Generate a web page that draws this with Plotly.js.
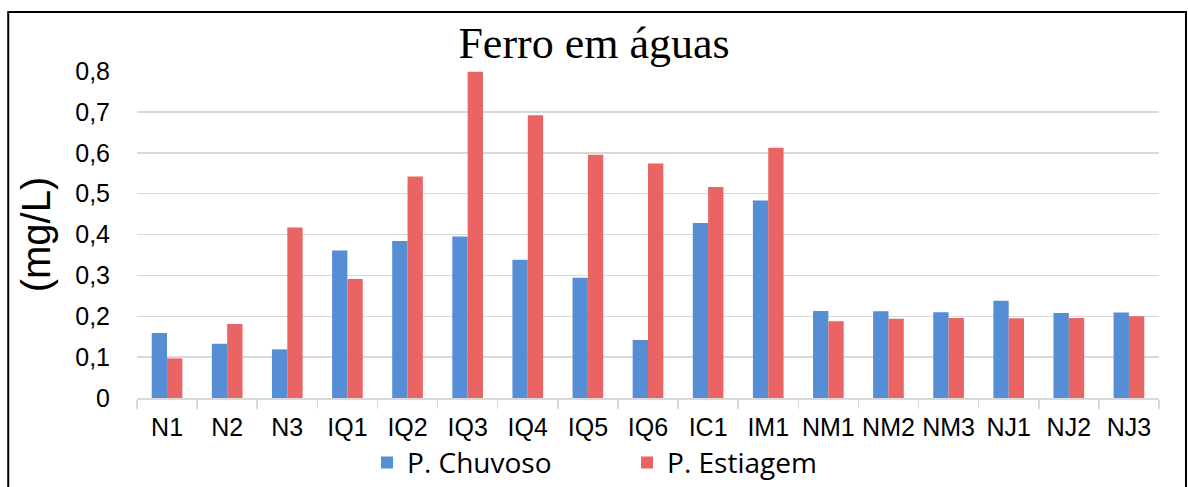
<!DOCTYPE html>
<html>
<head>
<meta charset="utf-8">
<script src="https://cdn.plot.ly/plotly-3.0.1.min.js"></script>
<style>html,body{margin:0;padding:0;background:#fff}#chart{width:1188px;height:487px}</style>
</head>
<body>
<div id="chart"></div>
<script>
const categories = ["N1","N2","N3","IQ1","IQ2","IQ3","IQ4","IQ5","IQ6","IC1","IM1","NM1","NM2","NM3","NJ1","NJ2","NJ3"];
const chuvoso = [0.159,0.133,0.119,0.361,0.384,0.395,0.338,0.294,0.142,0.428,0.483,0.213,0.212,0.210,0.238,0.208,0.209];
const estiagem = [0.097,0.181,0.417,0.291,0.542,0.798,0.692,0.595,0.574,0.516,0.612,0.188,0.194,0.196,0.195,0.196,0.200];
const seriesNames = ["P. Chuvoso","P. Estiagem"];
const yTicks = [0,0.1,0.2,0.3,0.4,0.5,0.6,0.7,0.8];

const traces = [
  {type:"bar", name:seriesNames[0], x:categories, y:chuvoso, marker:{color:"#558ed5", line:{width:0}}},
  {type:"bar", name:seriesNames[1], x:categories, y:estiagem, marker:{color:"#e96463", line:{width:0}}}
];

const layout = {
  width:1188, height:487,
  paper_bgcolor:"#ffffff", plot_bgcolor:"#ffffff",
  separators:",.",
  margin:{l:137, r:29, t:71, b:89, autoexpand:false},
  barmode:"group", bargap:0.49, bargroupgap:0,
  font:{family:"Liberation Sans, Arial, sans-serif", color:"#000"},
  title:{text:"Ferro em águas", font:{family:"Liberation Serif, Times New Roman, serif", size:44, color:"#000"},
         x:0.5, xanchor:"center", y:0.913, yanchor:"middle", yref:"container"},
  xaxis:{type:"category", tickson:"boundaries", ticks:"outside", ticklen:9, tickwidth:1.5, tickcolor:"#d9d9d9",
         showline:true, linecolor:"#d9d9d9", linewidth:1.5, showgrid:false, tickangle:0, automargin:false,
         ticklabelstandoff:6,
         tickfont:{size:25, family:"Liberation Sans, Arial, sans-serif"}, fixedrange:true},
  yaxis:{range:[0,0.8], tickvals:yTicks, showgrid:true, gridcolor:"#d9d9d9", gridwidth:1.5,
         zeroline:false, showline:false, ticks:"", ticklabelstandoff:26, automargin:false,
         tickfont:{size:25, family:"Liberation Sans, Arial, sans-serif"},
         title:{text:"(mg/L)", font:{size:40, family:"Liberation Sans, Arial, sans-serif"}, standoff:12}},
  legend:{orientation:"h", x:0.4795, xanchor:"center", y:-0.198, yanchor:"middle", entrywidth:215, entrywidthmode:"pixels",
          font:{size:28, family:"Open Sans, Noto Sans, sans-serif"}, bgcolor:"rgba(0,0,0,0)", traceorder:"normal"},
  showlegend:true,
  shapes:[{type:"rect", xref:"paper", yref:"paper", x0:-0.126, x1:1.0264, y0:-0.31, y1:1.1804,
           line:{color:"#000", width:2}, fillcolor:"rgba(0,0,0,0)", layer:"below"}]
};

Plotly.newPlot("chart", traces, layout, {displayModeBar:false, staticPlot:true});
</script>
</body>
</html>
